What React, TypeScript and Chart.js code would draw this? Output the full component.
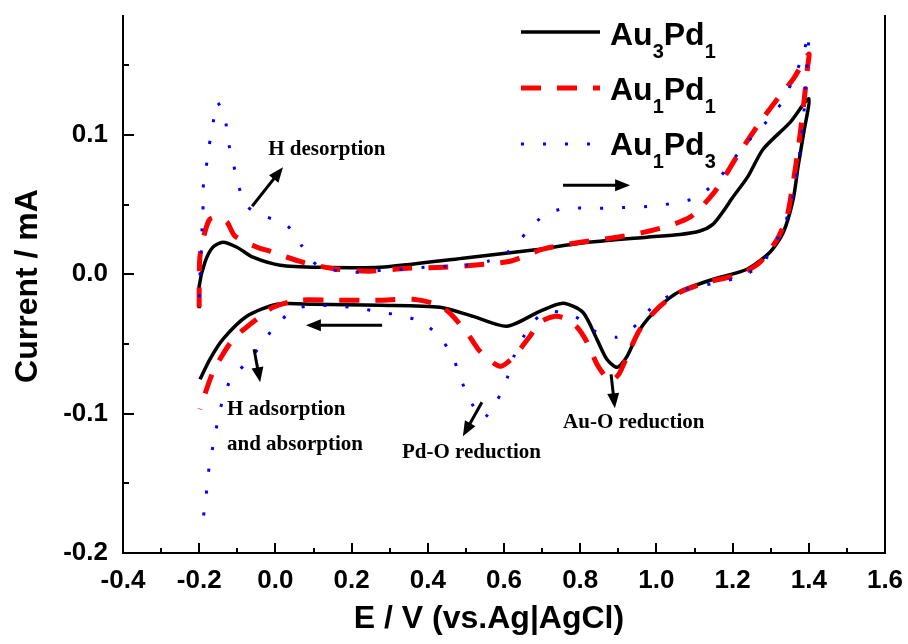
import { useEffect, useRef } from 'react';
import { Chart, registerables } from 'chart.js';

Chart.register(...registerables);

// ---------- data (E in V, I in mA) ----------
const au3pd1E = [-0.2, -0.2, -0.185, -0.164, -0.138, -0.101, -0.059, 0.012, 0.117, 0.275, 0.492, 0.694, 0.8, 0.975, 1.062, 1.114, 1.149, 1.175, 1.2, 1.24, 1.28, 1.351, 1.4,
  1.387, 1.372, 1.359, 1.333, 1.298, 1.238, 1.149, 1.062, 1.009, 0.957, 0.923, 0.897, 0.87, 0.844, 0.807, 0.755, 0.694, 0.608, 0.519, 0.432, 0.275, 0.099, 0.004, -0.075, -0.138, -0.172, -0.198];
const au3pd1I = [-0.0244, -0.0086, 0.0086, 0.0194, 0.023, 0.0194, 0.0122, 0.0065, 0.005, 0.005, 0.0115, 0.018, 0.0223, 0.0266, 0.0285, 0.031, 0.036, 0.045, 0.055, 0.07, 0.0897, 0.109, 0.126,
  0.102, 0.0775, 0.0538, 0.03, 0.0158, 0.0036, -0.0036, -0.0122, -0.023, -0.0395, -0.0589, -0.0668, -0.061, -0.0467, -0.0273, -0.0208, -0.0266, -0.0373, -0.0302, -0.0237, -0.0223, -0.0215, -0.0215, -0.0302, -0.0467, -0.061, -0.0754];

const au1pd1E = [-0.2, -0.2, -0.198, -0.185, -0.172, -0.153, -0.127, -0.106, -0.048, -0.014, 0.072, 0.162, 0.248, 0.345, 0.44, 0.519, 0.616, 0.702, 0.8, 0.897, 0.991, 1.088, 1.154, 1.212, 1.272, 1.324, 1.359, 1.4,
  1.397, 1.385, 1.372, 1.359, 1.343, 1.317, 1.272, 1.219, 1.133, 1.062, 1.009, 0.957, 0.923, 0.903, 0.883, 0.868, 0.844, 0.818, 0.792, 0.76, 0.734, 0.694, 0.668, 0.624, 0.589, 0.537, 0.511, 0.466, 0.432, 0.361, 0.275, 0.151, 0.057, -0.006, -0.04, -0.111, -0.164, -0.198];
const au1pd1I = [-0.0237, -0.0108, 0.0129, 0.0302, 0.0395, 0.041, 0.0373, 0.0273, 0.0194, 0.0165, 0.0086, 0.0036, 0.0022, 0.0043, 0.005, 0.0065, 0.0093, 0.018, 0.023, 0.0266, 0.0316, 0.0409, 0.0596, 0.0847, 0.109, 0.128, 0.14, 0.158,
  0.149, 0.118, 0.0897, 0.066, 0.0416, 0.0251, 0.0086, 0.0, -0.0057, -0.0129, -0.023, -0.0395, -0.0589, -0.071, -0.0765, -0.074, -0.0646, -0.0488, -0.038, -0.0316, -0.0302, -0.0345, -0.0445, -0.0596, -0.066, -0.0553, -0.0452, -0.0302, -0.0223, -0.018, -0.0187, -0.0187, -0.0187, -0.0237, -0.0302, -0.0467, -0.0704, -0.0969];

const au1pd3E = [-0.2, -0.198, -0.195, -0.193, -0.19, -0.19, -0.182, -0.174, -0.164, -0.153, -0.132, -0.124, -0.111, -0.098, -0.075, -0.027, 0.03, 0.07, 0.109, 0.17, 0.222, 0.282, 0.335, 0.393, 0.45, 0.503, 0.558, 0.613, 0.66, 0.705, 0.76, 0.818, 0.876, 0.931, 0.988, 1.044, 1.101, 1.156, 1.198, 1.246, 1.29, 1.332, 1.359, 1.383, 1.4,
  1.393, 1.39, 1.385, 1.38, 1.372, 1.364, 1.351, 1.332, 1.306, 1.277, 1.225, 1.167, 1.109, 1.054, 0.996, 0.949, 0.897, 0.839, 0.786, 0.729, 0.694, 0.655, 0.626, 0.608, 0.582, 0.545, 0.508, 0.485, 0.464, 0.427, 0.385, 0.327, 0.275, 0.222, 0.162, 0.104, 0.051, -0.001, -0.04, -0.08, -0.117, -0.14, -0.153, -0.164, -0.174, -0.18, -0.187, -0.195];
const au1pd3I = [-0.0165, -0.0014, 0.0144, 0.0302, 0.0452, 0.061, 0.0761, 0.0919, 0.1077, 0.1235, 0.1113, 0.0955, 0.0804, 0.0646, 0.0488, 0.0416, 0.0352, 0.0201, 0.0065, 0.0022, 0.0014, 0.0029, 0.0036, 0.005, 0.0057, 0.0065, 0.0093, 0.0165, 0.0302, 0.0424, 0.0474, 0.0474, 0.0474, 0.0481, 0.0488, 0.051, 0.0546, 0.066, 0.0811, 0.0969, 0.1098, 0.1242, 0.14, 0.1558, 0.1723,
  0.1414, 0.1256, 0.1098, 0.0948, 0.079, 0.0632, 0.0481, 0.0323, 0.0201, 0.0072, -0.0014, -0.0057, -0.0086, -0.0129, -0.0215, -0.0359, -0.0452, -0.0409, -0.0302, -0.0266, -0.0294, -0.0431, -0.0589, -0.0747, -0.0905, -0.1034, -0.089, -0.0739, -0.0581, -0.0438, -0.0345, -0.0294, -0.0273, -0.0244, -0.023, -0.0223, -0.0251, -0.0373, -0.0517, -0.0646, -0.0754, -0.0919, -0.1077, -0.1235, -0.1385, -0.1543, -0.1701, -0.1845];

const seriesNames = ['Au3Pd1', 'Au1Pd1', 'Au1Pd3'];

const xMajorTicks = [-0.4, -0.2, 0.0, 0.2, 0.4, 0.6, 0.8, 1.0, 1.2, 1.4, 1.6];
const xMinorTicks = [-0.3, -0.1, 0.1, 0.3, 0.5, 0.7, 0.9, 1.1, 1.3, 1.5];
const yMajorTicks = [-0.2, -0.1, 0.0, 0.1];
const yMinorTicks = [-0.15, -0.05, 0.05, 0.15];

const xTitle = 'E / V (vs.Ag|AgCl)';
const yTitle = 'Current / mA';

// annotations (data coordinates)
const notes = [
  { text: 'H desorption', x: -0.019, y: 0.0854 },
  { text: 'H adsorption', x: -0.127, y: -0.1012 },
  { text: 'and absorption', x: -0.127, y: -0.1263 },
  { text: 'Pd-O reduction', x: 0.332, y: -0.1321 },
  { text: 'Au-O reduction', x: 0.755, y: -0.1106 },
];
const arrows = [
  { x0: -0.061, y0: 0.0488, x1: 0.02, y1: 0.0768 },
  { x0: 0.755, y0: 0.0639, x1: 0.931, y1: 0.0639 },
  { x0: 0.28, y0: -0.0366, x1: 0.08, y1: -0.0366 },
  { x0: -0.056, y0: -0.0538, x1: -0.04, y1: -0.0775 },
  { x0: 0.542, y0: -0.0919, x1: 0.492, y1: -0.1163 },
  { x0: 0.881, y0: -0.0718, x1: 0.891, y1: -0.0962 },
];

const toPoints = (xs: number[], ys: number[]) => xs.map((x, i) => ({ x, y: ys[i] }));

const SANS = '"Liberation Sans", Arial, sans-serif';
const SERIF = '"Liberation Serif", "Times New Roman", serif';

const decorPlugin = {
  id: 'decor',
  afterDraw(chart: any) {
    const { ctx, chartArea: a, scales } = chart;
    const xs = scales.x;
    const ys = scales.y;
    ctx.save();
    ctx.strokeStyle = '#000';
    ctx.fillStyle = '#000';
    ctx.lineWidth = 2;
    ctx.setLineDash([]);
    ctx.lineCap = 'butt';
    // frame (left, bottom, right)
    ctx.beginPath();
    ctx.moveTo(a.left, a.top);
    ctx.lineTo(a.left, a.bottom);
    ctx.lineTo(a.right, a.bottom);
    ctx.lineTo(a.right, a.top);
    ctx.stroke();
    // inward ticks
    ctx.beginPath();
    for (const v of xMajorTicks) {
      const p = Math.round(xs.getPixelForValue(v));
      ctx.moveTo(p, a.bottom); ctx.lineTo(p, a.bottom - 10);
    }
    for (const v of xMinorTicks) {
      const p = Math.round(xs.getPixelForValue(v));
      ctx.moveTo(p, a.bottom); ctx.lineTo(p, a.bottom - 5);
    }
    for (const v of yMajorTicks) {
      const p = Math.round(ys.getPixelForValue(v));
      ctx.moveTo(a.left, p); ctx.lineTo(a.left + 11, p);
    }
    for (const v of yMinorTicks) {
      const p = Math.round(ys.getPixelForValue(v));
      ctx.moveTo(a.left, p); ctx.lineTo(a.left + 6, p);
    }
    ctx.stroke();

    // axis titles
    ctx.font = `bold 32px ${SANS}`;
    ctx.textAlign = 'center';
    ctx.textBaseline = 'alphabetic';
    ctx.fillText(xTitle, a.left + 366, a.bottom + 75);
    ctx.save();
    ctx.translate(37, (a.top + a.bottom) / 2 + 2);
    ctx.rotate(-Math.PI / 2);
    ctx.fillText(yTitle, 0, 0);
    ctx.restore();

    // legend
    ctx.textAlign = 'left';
    chart.data.datasets.forEach((ds: any, i: number) => {
      const ly = a.top + 17 + i * 56;
      ctx.save();
      ctx.strokeStyle = ds.borderColor;
      ctx.lineWidth = ds.borderWidth;
      ctx.setLineDash(ds.borderDash || []);
      ctx.beginPath();
      ctx.moveTo(a.left + 398, ly);
      ctx.lineTo(a.left + 477, ly);
      ctx.stroke();
      ctx.restore();
      let tx = a.left + 487;
      const by = a.top + 30 + i * 55;
      const parts = (seriesNames[i].match(/[A-Za-z]+|\d+/g) || []) as string[];
      for (const p of parts) {
        if (/\d/.test(p)) {
          ctx.font = `bold 20px ${SANS}`;
          ctx.fillText(p, tx, by + 13);
        } else {
          ctx.font = `bold 32px ${SANS}`;
          ctx.fillText(p, tx, by);
        }
        tx += ctx.measureText(p).width;
      }
    });

    // annotations
    ctx.font = `bold 21px ${SERIF}`;
    for (const n of notes) {
      ctx.fillText(n.text, xs.getPixelForValue(n.x), ys.getPixelForValue(n.y));
    }
    ctx.lineWidth = 3;
    for (const ar of arrows) {
      const x0 = xs.getPixelForValue(ar.x0), y0 = ys.getPixelForValue(ar.y0);
      const x1 = xs.getPixelForValue(ar.x1), y1 = ys.getPixelForValue(ar.y1);
      const ang = Math.atan2(y1 - y0, x1 - x0);
      const hl = 15, hw = 6;
      const bx = x1 - hl * Math.cos(ang), by2 = y1 - hl * Math.sin(ang);
      ctx.beginPath();
      ctx.moveTo(x0, y0);
      ctx.lineTo(bx + 2 * Math.cos(ang), by2 + 2 * Math.sin(ang));
      ctx.stroke();
      ctx.beginPath();
      ctx.moveTo(x1, y1);
      ctx.lineTo(bx + hw * Math.sin(ang), by2 - hw * Math.cos(ang));
      ctx.lineTo(bx - hw * Math.sin(ang), by2 + hw * Math.cos(ang));
      ctx.closePath();
      ctx.fill();
    }
    ctx.restore();
  },
};

export default function App() {
  const ref = useRef<HTMLCanvasElement>(null);
  useEffect(() => {
    if (!ref.current) return;
    const chart = new Chart(ref.current, {
      type: 'scatter',
      data: {
        datasets: [
          {
            label: seriesNames[0],
            data: toPoints(au3pd1E, au3pd1I),
            showLine: true,
            borderColor: '#000000',
            borderWidth: 3.5,
            pointRadius: 0,
            tension: 0.25,
            order: 3,
          },
          {
            label: seriesNames[1],
            data: toPoints(au1pd1E, au1pd1I),
            showLine: true,
            borderColor: '#ff0000',
            borderWidth: 5,
            borderDash: [20, 16],
            pointRadius: 0,
            tension: 0.25,
            order: 2,
          },
          {
            label: seriesNames[2],
            data: toPoints(au1pd3E, au1pd3I),
            showLine: true,
            borderColor: '#0000ff',
            borderWidth: 3,
            borderDash: [3, 19],
            pointRadius: 0,
            tension: 0.25,
            order: 1,
          },
        ] as any,
      },
      options: {
        animation: false,
        responsive: true,
        maintainAspectRatio: false,
        layout: { padding: { left: 0, right: 23, top: 15, bottom: 0 } },
        plugins: { legend: { display: false }, tooltip: { enabled: false } },
        scales: {
          x: {
            type: 'linear',
            min: -0.4,
            max: 1.6,
            grid: { display: false, drawTicks: false },
            border: { display: false },
            afterBuildTicks: (s: any) => { s.ticks = xMajorTicks.map((v) => ({ value: v })); },
            afterFit: (s: any) => { s.height = 91; s.paddingLeft = 0; s.paddingRight = 0; s.paddingTop = 0; s.paddingBottom = 0; },
            ticks: {
              padding: 12,
              color: '#000',
              font: { family: SANS, size: 26, weight: 'bold' },
              maxRotation: 0,
              callback: (v: any) => Number(v).toFixed(1),
            },
          },
          y: {
            type: 'linear',
            min: -0.2,
            max: 0.186,
            grid: { display: false, drawTicks: false },
            border: { display: false },
            afterBuildTicks: (s: any) => { s.ticks = yMajorTicks.map((v) => ({ value: v })); },
            afterFit: (s: any) => { s.width = 123; s.paddingLeft = 0; s.paddingRight = 0; s.paddingTop = 0; s.paddingBottom = 0; },
            ticks: {
              padding: 15,
              color: '#000',
              font: { family: SANS, size: 26, weight: 'bold' },
              callback: (v: any) => Number(v).toFixed(1),
            },
          },
        },
      } as any,
      plugins: [decorPlugin],
    });
    return () => chart.destroy();
  }, []);
  return (
    <div style={{ position: 'absolute', left: 0, top: 0, width: 908, height: 644, background: '#fff' }}>
      <canvas ref={ref} />
    </div>
  );
}
